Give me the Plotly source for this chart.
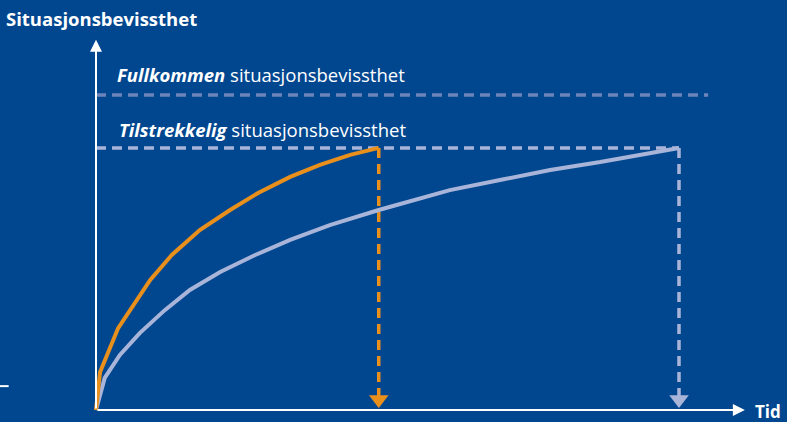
import plotly.graph_objects as go

# Data (time units 0..10, awareness units with "full" = 100)
orange_t = [0, 0.07, 0.38, 0.67, 0.93, 1.30, 1.78, 2.30, 2.78, 3.33, 3.84, 4.36, 4.85]
orange_a = [0, 12.1, 26.0, 34.3, 41.3, 49.2, 57.1, 63.5, 68.9, 74.0, 77.8, 81.0, 83.2]
blue_t = [0, 0.15, 0.41, 0.75, 1.18, 1.61, 2.13, 2.73, 3.33, 4.01, 4.85, 6.07, 6.93, 7.79, 8.65, 9.50, 10.0]
blue_a = [0, 10.2, 17.5, 24.4, 31.7, 38.1, 43.8, 49.2, 54.0, 58.7, 63.5, 69.8, 73.0, 76.2, 78.7, 81.6, 83.2]
full_level = 100.0
sufficient_level = 83.2
full_line_end = 10.5
orange_end = orange_t[-1]
blue_end = blue_t[-1]
x_axis_end = 11.13
y_axis_end = 117.5

BG = "#01478f"
ORANGE = "#e98f1c"
LIGHT = "#a9b4d9"
FULLC = "#6d84bb"
FONT = "Open Sans"

fig = go.Figure()

# horizontal dashed reference levels
fig.add_trace(go.Scatter(x=[0, full_line_end], y=[full_level, full_level], mode="lines",
                         line=dict(color=FULLC, width=3.5, dash="10px,6px"), hoverinfo="skip"))
fig.add_trace(go.Scatter(x=[0, blue_end], y=[sufficient_level, sufficient_level], mode="lines",
                         line=dict(color=LIGHT, width=3.5, dash="10px,6px"), hoverinfo="skip"))

# vertical dashed drops
fig.add_trace(go.Scatter(x=[orange_end, orange_end], y=[sufficient_level, 4], mode="lines",
                         line=dict(color=ORANGE, width=3.5, dash="10px,6px"), hoverinfo="skip"))
fig.add_trace(go.Scatter(x=[blue_end, blue_end], y=[sufficient_level, 4], mode="lines",
                         line=dict(color=LIGHT, width=3.5, dash="10px,6px"), hoverinfo="skip"))

# curves
fig.add_trace(go.Scatter(x=blue_t, y=blue_a, mode="lines",
                         line=dict(color=LIGHT, width=4), hoverinfo="skip"))
fig.add_trace(go.Scatter(x=orange_t, y=orange_a, mode="lines",
                         line=dict(color=ORANGE, width=4), hoverinfo="skip"))

# arrow heads at bottom
fig.add_trace(go.Scatter(x=[orange_end], y=[3.3], mode="markers",
                         marker=dict(symbol="triangle-down", size=17, color=ORANGE), hoverinfo="skip"))
fig.add_trace(go.Scatter(x=[blue_end], y=[3.3], mode="markers",
                         marker=dict(symbol="triangle-down", size=17, color=LIGHT), hoverinfo="skip"))

annotations = [
    # axes arrows
    dict(x=x_axis_end, y=0, ax=0, ay=0, axref="x", ayref="y", xref="x", yref="y",
         showarrow=True, arrowhead=2, arrowsize=1.2, arrowwidth=2, arrowcolor="white", text=""),
    dict(x=0, y=y_axis_end, ax=0, ay=0, axref="x", ayref="y", xref="x", yref="y",
         showarrow=True, arrowhead=2, arrowsize=1.2, arrowwidth=2, arrowcolor="white", text=""),
    dict(x=0.005, y=0.957, xref="paper", yref="paper", xanchor="left", yanchor="middle",
         text="<b>Situasjonsbevissthet</b>", showarrow=False,
         font=dict(family=FONT, size=18.5, color="white")),
    dict(x=0.957, y=-0.008, xref="paper", yref="paper", xanchor="left", yanchor="bottom",
         text="<b>Tid</b>", showarrow=False, font=dict(family=FONT, size=17, color="white")),
    dict(x=0.33, y=full_level + 6.5, xref="x", yref="y", xanchor="left", yanchor="middle",
         text="<b><i>Fullkommen</i></b> situasjonsbevissthet", showarrow=False,
         font=dict(family=FONT, size=18.5, color="white")),
    dict(x=0.36, y=sufficient_level + 5.8, xref="x", yref="y", xanchor="left", yanchor="middle",
         text="<b><i>Tilstrekkelig</i></b> situasjonsbevissthet", showarrow=False,
         font=dict(family=FONT, size=18.5, color="white")),
]

fig.update_layout(
    width=787, height=422,
    margin=dict(l=0, r=0, t=0, b=0),
    paper_bgcolor=BG, plot_bgcolor=BG,
    showlegend=False,
    xaxis=dict(range=[-96 / 58.3, 691 / 58.3], visible=False, fixedrange=True),
    yaxis=dict(range=[-12 / 3.15, 410 / 3.15], visible=False, fixedrange=True),
    annotations=annotations,
    shapes=[dict(type="line", xref="paper", yref="paper", x0=0.0, x1=0.011, y0=0.085, y1=0.085,
                 line=dict(color="white", width=2))],
)

fig.write_html("out.html", config={"displayModeBar": False},
               post_script="document.body.style.margin='0';document.body.style.background='#01478f';")
